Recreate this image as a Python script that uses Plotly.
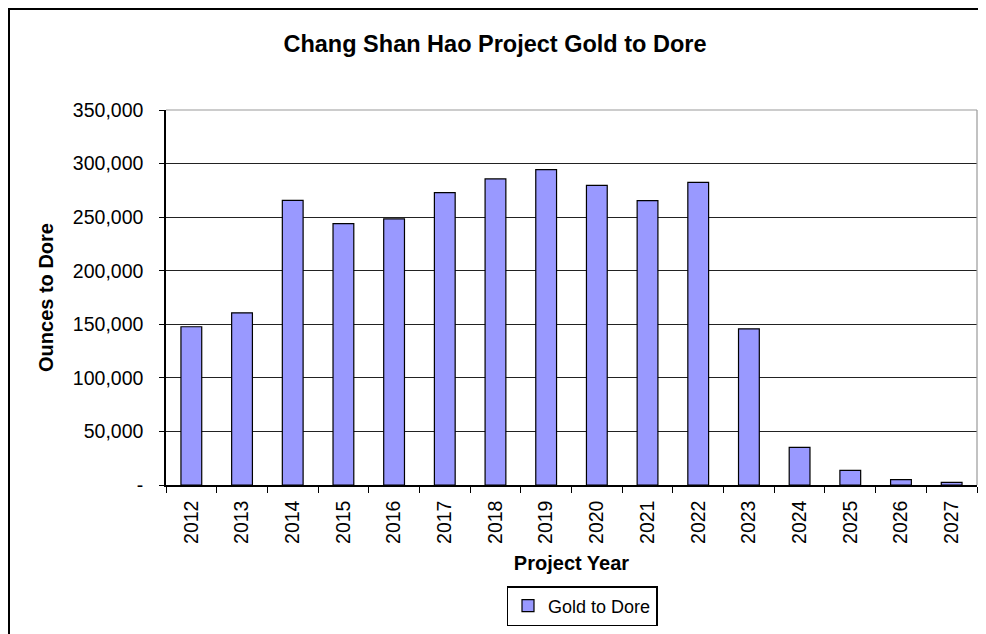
import plotly.graph_objects as go

years = ["2012", "2013", "2014", "2015", "2016", "2017", "2018", "2019",
         "2020", "2021", "2022", "2023", "2024", "2025", "2026", "2027"]
gold_to_dore = [147700, 160700, 265700, 243900, 248300, 272900, 285700, 294400,
                279700, 265400, 282500, 145800, 35200, 13700, 5000, 2500]
y_tick_vals = [0, 50000, 100000, 150000, 200000, 250000, 300000, 350000]
y_tick_text = ["-", "50,000", "100,000", "150,000", "200,000", "250,000", "300,000", "350,000"]

FONT = "Liberation Sans, Arial, sans-serif"

# page offset of the figure inside the browser (body margin)
OX, OY = 8, 8
W, H = 986, 634

# desired plot-area edges in screenshot pixels
PL, PR, PT, PB = 166, 977, 110, 485
L = PL - OX
R = W - (PR - OX)
T = PT - OY
B = H - (PB - OY)
pw, ph = W - L - R, H - T - B

def px_x(p):
    return (p - PL) / pw

def px_y(p):
    return (PB - p) / ph

fig = go.Figure()
fig.add_trace(go.Bar(
    x=years, y=gold_to_dore, name="Gold to Dore",
    marker=dict(color="#9999FF", line=dict(color="black", width=1.2)),
))

fig.update_layout(
    width=W, height=H,
    margin=dict(l=L, r=R, t=T, b=B, autoexpand=False),
    paper_bgcolor="white", plot_bgcolor="white",
    font=dict(family=FONT, color="black", size=18),
    bargap=0.59,
    showlegend=True,
    title=dict(text="<b>Chang Shan Hao Project Gold to Dore</b>",
               x=(495 - OX) / W, xanchor="center", y=1 - (44 - OY) / H, yanchor="middle",
               yref="container", font=dict(size=23.5, family=FONT, color="black")),
    legend=dict(x=px_x(582), xanchor="center", y=px_y(586), yanchor="top",
                bordercolor="black", borderwidth=1.5, bgcolor="white",
                font=dict(size=18, family=FONT), itemwidth=30),
    xaxis=dict(
        type="category", showline=True, linecolor="black", linewidth=1.5,
        ticks="outside", tickson="boundaries", ticklen=6, tickcolor="black",
        tickangle=-90, tickfont=dict(size=19.5, family=FONT),
        ticklabelstandoff=6,
        title=dict(text="<b>Project Year</b>", font=dict(size=20, family=FONT), standoff=13),
        showgrid=False,
    ),
    yaxis=dict(
        range=[0, 350000], tickvals=y_tick_vals, ticktext=y_tick_text,
        showline=True, linecolor="black", linewidth=1.5,
        ticks="outside", ticklen=5, tickcolor="black",
        showgrid=True, gridcolor="#222222", gridwidth=1.2,
        zeroline=False,
        tickfont=dict(size=19.5, family=FONT),
        ticklabelstandoff=12,
        title=dict(text="<b>Ounces to Dore</b>", font=dict(size=20, family=FONT), standoff=14),
    ),
    shapes=[
        dict(type="line", xref="paper", yref="paper", x0=0, x1=1, y0=1, y1=1,
             line=dict(color="#999999", width=1.2), layer="above"),
        dict(type="line", xref="paper", yref="paper", x0=1, x1=1, y0=0, y1=1,
             line=dict(color="#999999", width=1.2), layer="above"),
        # outer chart frame (left/top hug the figure edge)
        dict(type="rect", xref="paper", yref="paper",
             x0=px_x(OX + 1), x1=px_x(983), y0=px_y(660), y1=px_y(OY + 1),
             line=dict(color="black", width=2), layer="below"),
    ],
)

fig.write_html("out.html")
